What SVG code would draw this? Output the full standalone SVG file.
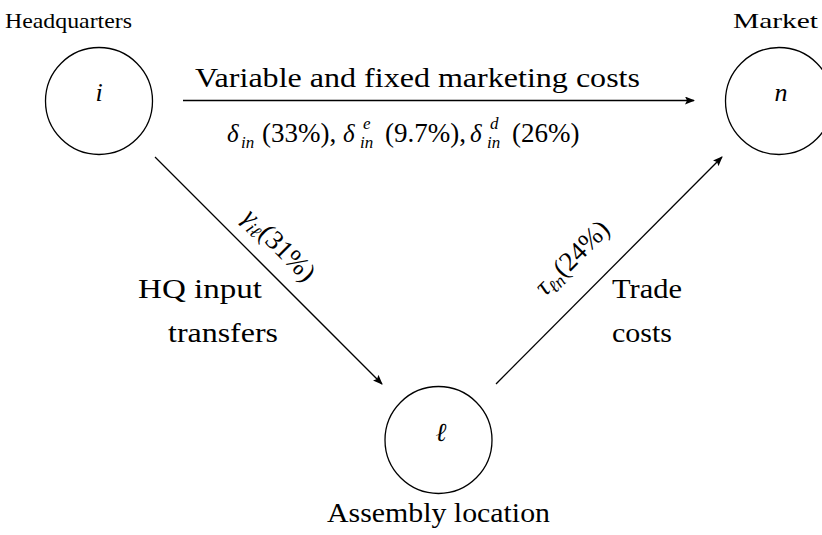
<svg xmlns="http://www.w3.org/2000/svg" width="822" height="535" viewBox="0 0 822 535">
<style>
.node{fill:none;stroke:#000;stroke-width:1.3}
.edge{stroke:#000;stroke-width:1.3;fill:none;marker-end:url(#ah)}
</style>
<defs>
<marker id="ah" viewBox="0 0 10 8" refX="9" refY="4" markerWidth="10" markerHeight="8" markerUnits="userSpaceOnUse" orient="auto">
<path d="M0,0 L10,4 L0,8 L2,4 Z" fill="#000"/>
</marker>
</defs>
<rect width="822" height="535" fill="#fff"/>
<g id="node-i">
<circle class="node" cx="99" cy="101" r="53.5"/>
<text x="99" y="101" font-family="Liberation Serif" font-size="26" font-style="italic" text-anchor="middle">i</text>
<text x="5" y="28" font-family="Liberation Serif" font-size="22" textLength="127" lengthAdjust="spacingAndGlyphs">Headquarters</text>
</g>
<g id="node-n">
<circle class="node" cx="779" cy="101" r="53.5"/>
<text x="781" y="101" font-family="Liberation Serif" font-size="26" font-style="italic" text-anchor="middle">n</text>
<text x="733" y="28" font-family="Liberation Serif" font-size="22" textLength="85" lengthAdjust="spacingAndGlyphs">Market</text>
</g>
<g id="node-l">
<circle class="node" cx="438.5" cy="440" r="53.5"/>
<text x="441" y="441" font-family="Liberation Serif" font-size="26" font-style="italic" text-anchor="middle">ℓ</text>
<text x="327" y="522" font-family="Liberation Serif" font-size="27" textLength="223" lengthAdjust="spacingAndGlyphs">Assembly location</text>
</g>
<g id="connectors">
<line class="edge" x1="183" y1="100.5" x2="694" y2="100.5"/>
<line class="edge" x1="155" y1="157" x2="382" y2="384"/>
<line class="edge" x1="496" y1="384" x2="722" y2="157"/>
</g>
<g id="edge-labels">
<text x="195" y="87" font-family="Liberation Serif" font-size="27" textLength="445" lengthAdjust="spacingAndGlyphs">Variable and fixed marketing costs</text>
<text x="0" y="142" font-family="Liberation Serif" font-size="25"><tspan font-style="italic" x="227">δ</tspan><tspan font-style="italic" x="241" y="148" font-size="17">in</tspan><tspan x="262" y="142" font-size="27">(33%),</tspan><tspan font-style="italic" x="343">δ</tspan><tspan font-style="italic" x="363" y="129" font-size="17">e</tspan><tspan font-style="italic" x="360" y="148" font-size="17">in</tspan><tspan x="385" y="142" font-size="27">(9.7%),</tspan><tspan font-style="italic" x="470">δ</tspan><tspan font-style="italic" x="490" y="129" font-size="17">d</tspan><tspan font-style="italic" x="487" y="148" font-size="17">in</tspan><tspan x="512" y="142" font-size="27">(26%)</tspan></text>
<text transform="translate(273,251) rotate(45)" font-family="Liberation Serif" font-size="27" text-anchor="middle"><tspan font-style="italic">γ</tspan><tspan font-style="italic" font-size="18" dy="5">iℓ</tspan><tspan dy="-5">(31%)</tspan></text>
<text transform="translate(578,264) rotate(-45)" font-family="Liberation Serif" font-size="27" text-anchor="middle"><tspan font-style="italic">τ</tspan><tspan font-style="italic" font-size="18" dy="5">ℓn</tspan><tspan dy="-5">(24%)</tspan></text>
<text x="138" y="298" font-family="Liberation Serif" font-size="27" textLength="124" lengthAdjust="spacingAndGlyphs">HQ input</text>
<text x="168" y="342" font-family="Liberation Serif" font-size="27" textLength="110" lengthAdjust="spacingAndGlyphs">transfers</text>
<text x="612" y="298" font-family="Liberation Serif" font-size="27" textLength="70" lengthAdjust="spacingAndGlyphs">Trade</text>
<text x="612" y="342" font-family="Liberation Serif" font-size="27" textLength="60" lengthAdjust="spacingAndGlyphs">costs</text>
</g>
</svg>
